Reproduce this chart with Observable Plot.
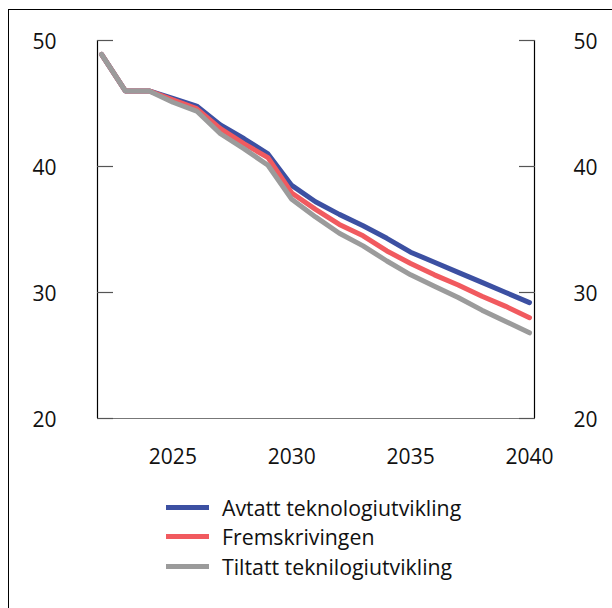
<!DOCTYPE html>
<html>
<head>
<meta charset="utf-8">
<script src="https://cdn.jsdelivr.net/npm/d3@7"></script>
<script src="https://cdn.jsdelivr.net/npm/@observablehq/plot@0.6"></script>
<style>
  html, body { margin: 0; padding: 0; background: #fff; overflow: hidden; }
  #wrap { position: relative; width: 612px; height: 608px; font-family: "Open Sans", sans-serif; }
  #frame { position: absolute; left: 8px; top: 9px; width: 700px; height: 700px; border: 1px solid #000; box-sizing: border-box; }
  #chart { position: absolute; left: 0; top: 0; }
  #legend { position: absolute; left: 166px; top: 493px; }
  .item { display: flex; align-items: center; height: 29.3px; font-size: 21.3px; color: #111; }
  .sw { width: 43px; height: 5px; margin-right: 13px; }
</style>
</head>
<body>
<div id="wrap">
  <div id="frame"></div>
  <div id="chart"></div>
  <div id="legend"></div>
</div>
<script>
const years = [2022,2023,2024,2025,2026,2027,2028,2029,2030,2031,2032,2033,2034,2035,2036,2037,2038,2039,2040];
const avtatt = [48.9,46.0,46.0,45.4,44.8,43.3,42.2,41.0,38.5,37.2,36.2,35.3,34.3,33.2,32.4,31.6,30.8,30.0,29.2];
const fremskrivingen = [48.9,46.0,46.0,45.3,44.6,43.0,41.8,40.7,37.9,36.6,35.4,34.5,33.3,32.3,31.4,30.6,29.7,28.9,28.0];
const tiltatt = [48.9,46.0,46.0,45.1,44.4,42.6,41.4,40.1,37.4,36.0,34.7,33.7,32.5,31.4,30.5,29.6,28.6,27.7,26.8];
const seriesNames = ["Avtatt teknologiutvikling", "Fremskrivingen", "Tiltatt teknilogiutvikling"];
const seriesColors = ["#3c50a2", "#f15a5f", "#9b9b9b"];
const yTicks = [20, 30, 40, 50];
const xTicks = [2025, 2030, 2035, 2040];
const yDomain = [20, 50];
const xDomain = [2021.83, 2040.21];

const allSeries = [avtatt, fremskrivingen, tiltatt];
const data = [];
[0,1,2].forEach(si => years.forEach((yr, i) => data.push({year: yr, value: allSeries[si][i], series: seriesNames[si]})));

const font = "Open Sans, sans-serif";
const fs = 21;
const chart = Plot.plot({
  width: 612,
  height: 480,
  marginLeft: 97,
  marginRight: 78,
  marginTop: 40,
  marginBottom: 62,
  style: {fontFamily: font, fontSize: fs + "px", color: "#111", background: "transparent"},
  x: {domain: xDomain},
  y: {domain: yDomain},
  color: {domain: seriesNames, range: seriesColors},
  marks: [
    Plot.ruleY([yDomain[0]], {stroke: "#777", strokeWidth: 1.2}),
    Plot.ruleX([xDomain[0]], {stroke: "#000", strokeWidth: 1.2}),
    Plot.ruleX([xDomain[1]], {stroke: "#000", strokeWidth: 1.2}),
    Plot.axisY(yTicks, {anchor: "left", tickSize: -16, text: null, label: null, stroke: "#555", strokeWidth: 1.2}),
    Plot.axisY(yTicks, {anchor: "right", tickSize: -16, text: null, label: null, stroke: "#555", strokeWidth: 1.2}),
    Plot.axisY(yTicks, {anchor: "left", tickSize: 0, tickPadding: 41, fontSize: fs, label: null, dy: 2}),
    Plot.axisY(yTicks, {anchor: "right", tickSize: 0, tickPadding: 39, fontSize: fs, label: null, dy: 2}),
    Plot.axisX(xTicks, {anchor: "bottom", tickSize: 0, tickPadding: 31, fontSize: fs, label: null, tickFormat: d => String(d)}),
    Plot.line(data, {x: "year", y: "value", z: "series", stroke: "series", strokeWidth: 5, strokeLinecap: "round", strokeLinejoin: "round"})
  ]
});
document.getElementById("chart").appendChild(chart);

const legend = document.getElementById("legend");
seriesNames.forEach((name, i) => {
  const row = document.createElement("div");
  row.className = "item";
  const sw = document.createElement("div");
  sw.className = "sw";
  sw.style.background = seriesColors[i];
  const t = document.createElement("span");
  t.textContent = name;
  row.appendChild(sw);
  row.appendChild(t);
  legend.appendChild(row);
});
</script>
</body>
</html>
